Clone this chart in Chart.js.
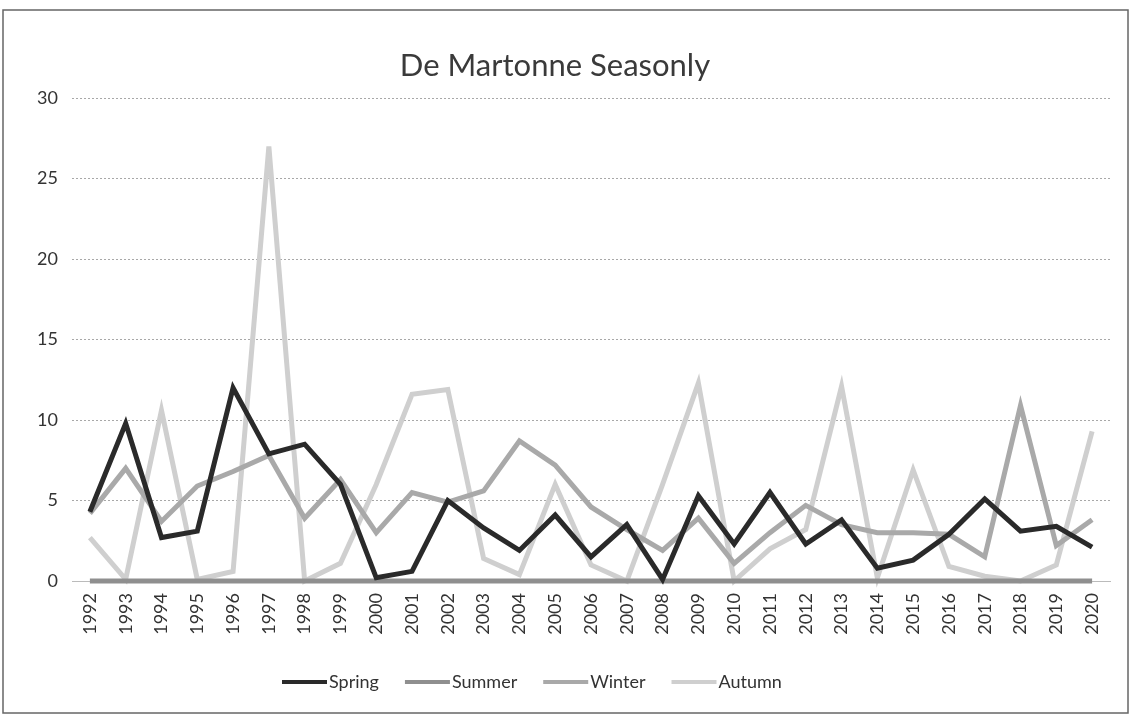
<!DOCTYPE html>
<html>
<head>
<meta charset="utf-8">
<script src="https://cdn.jsdelivr.net/npm/chart.js@4"></script>
<style>
  html, body { margin: 0; padding: 0; background: #fff; }
  #wrap { width: 1133px; height: 719px; }
</style>
</head>
<body>
<div id="wrap"><canvas id="chart" width="1133" height="719"></canvas></div>
<script>
// years on the x axis
const years = ['1992','1993','1994','1995','1996','1997','1998','1999','2000','2001',
  '2002','2003','2004','2005','2006','2007','2008','2009','2010','2011',
  '2012','2013','2014','2015','2016','2017','2018','2019','2020'];

// De Martonne index per season
const spring = [4.3, 9.8, 2.7, 3.1, 12.0, 7.9, 8.5, 6.0, 0.2, 0.6,
  5.0, 3.3, 1.9, 4.1, 1.5, 3.5, 0.1, 5.3, 2.3, 5.5,
  2.3, 3.8, 0.8, 1.3, 2.9, 5.1, 3.1, 3.4, 2.1];
const summer = [0, 0, 0, 0, 0, 0, 0, 0, 0, 0,
  0, 0, 0, 0, 0, 0, 0, 0, 0, 0,
  0, 0, 0, 0, 0, 0, 0, 0, 0];
const winter = [4.2, 7.0, 3.7, 5.9, 6.8, 7.8, 3.9, 6.3, 3.0, 5.5,
  4.9, 5.6, 8.7, 7.2, 4.6, 3.2, 1.9, 3.9, 1.1, 3.0,
  4.7, 3.5, 3.0, 3.0, 2.9, 1.5, 10.9, 2.2, 3.8];
const autumn = [2.7, 0.1, 10.6, 0.1, 0.6, 27.0, 0.0, 1.1, 6.0, 11.6,
  11.9, 1.4, 0.4, 6.0, 1.0, 0.0, 6.0, 12.3, 0.0, 2.0,
  3.2, 12.1, 0.2, 6.9, 0.9, 0.3, 0.0, 1.0, 9.3];

const yTicks = [0, 5, 10, 15, 20, 25, 30];

const FONT = 'Lato, "Open Sans", sans-serif';

// thin frame round the whole chart, like the printed Excel chart
const frame = {
  id: 'frame',
  beforeDraw(chart) {
    const c = chart.ctx;
    c.save();
    c.fillStyle = '#fff';
    c.fillRect(0, 0, chart.width, chart.height);
    c.strokeStyle = '#666';
    c.lineWidth = 1.5;
    c.strokeRect(3, 10, 1125, 703);
    c.restore();
  }
};

// legend drawn by hand: the Excel one sits left of centre with tight gaps
const bottomLegend = {
  id: 'bottomLegend',
  afterDraw(chart) {
    const c = chart.ctx;
    c.save();
    c.font = '18px ' + FONT;
    c.textBaseline = 'middle';
    c.fillStyle = '#333';
    let x = 282;
    const y = 682;
    chart.data.datasets.forEach(ds => {
      c.fillStyle = ds.borderColor;
      c.fillRect(x, y - 2, 45, 4);
      x += 47;
      c.fillStyle = '#333';
      c.fillText(ds.label, x, y);
      x += c.measureText(ds.label).width + 26;
    });
    c.restore();
  }
};

function series(label, data, color) {
  return {
    label: label,
    data: data,
    borderColor: color,
    backgroundColor: color,
    borderWidth: 5,
    pointRadius: 0,
    tension: 0,
    clip: false
  };
}

new Chart(document.getElementById('chart'), {
  type: 'line',
  data: {
    labels: years,
    datasets: [
      series('Spring', spring, '#2a2a2a'),
      series('Summer', summer, '#8f8f8f'),
      series('Winter', winter, '#a9a9a9'),
      series('Autumn', autumn, '#cfcfcf')
    ]
  },
  options: {
    responsive: false,
    animation: false,
    layout: { padding: { left: 0, right: 23, top: 10, bottom: 58 } },
    plugins: {
      title: {
        display: true,
        text: 'De Martonne Seasonly',
        color: '#3a3a3a',
        font: { family: FONT, size: 31, weight: 'normal' },
        padding: { top: 37, bottom: 14 }
      },
      legend: { display: false },
      tooltip: { enabled: false }
    },
    scales: {
      x: {
        offset: true,
        grid: { display: false, drawTicks: false },
        border: { display: true, color: '#bbb', width: 1 },
        ticks: {
          color: '#333',
          font: { family: FONT, size: 18 },
          minRotation: 90,
          maxRotation: 90,
          autoSkip: false,
          padding: 12
        },
        afterFit(s) { s.height = 80; }
      },
      y: {
        min: 0,
        max: 30,
        afterBuildTicks(s) { s.ticks = yTicks.map(v => ({ value: v })); },
        grid: {
          color: '#a8a8a8',
          lineWidth: 1,
          drawTicks: false
        },
        border: { display: false, dash: [2, 2] },
        ticks: {
          color: '#333',
          font: { family: FONT, size: 18 },
          padding: 14
        },
        afterFit(s) { s.width = 72; }
      }
    }
  },
  plugins: [frame, bottomLegend]
});
</script>
</body>
</html>
